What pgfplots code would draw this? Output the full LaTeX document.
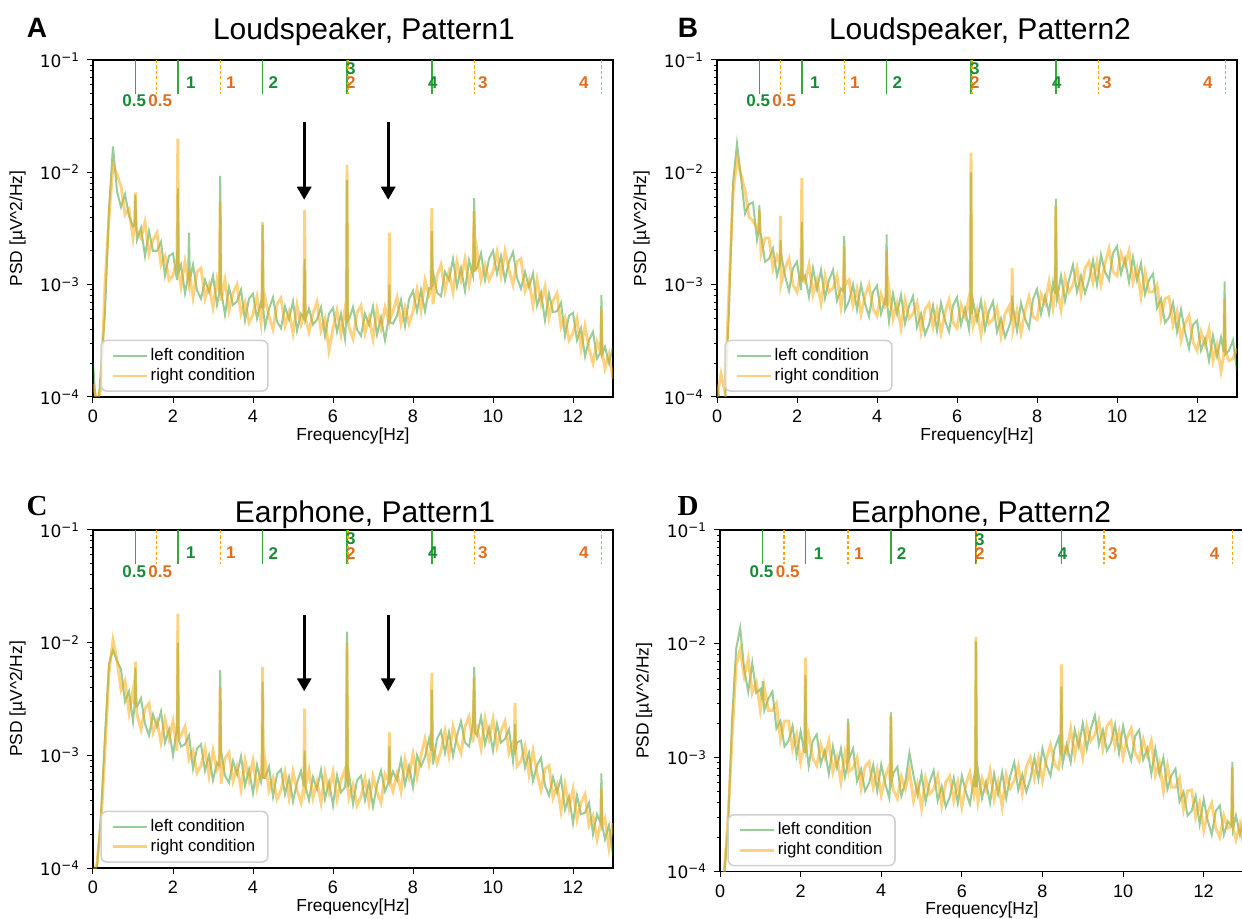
\documentclass[border=0pt]{standalone}
\usepackage{fontspec}
\setmainfont{Liberation Sans}
\newfontfamily\dejavu{DejaVu Sans}
\newfontfamily\serifbold{Liberation Serif}
\usepackage{pgfplots}
\pgfplotsset{compat=1.18}
\usepackage{pgfplotstable}
\usetikzlibrary{arrows.meta}

\definecolor{lgreen}{rgb}{0,0.5,0}
\definecolor{rorange}{rgb}{1,0.647,0}
\definecolor{mkgreen}{rgb}{0.22,0.66,0.22}
\definecolor{txtgreen}{rgb}{0.1,0.55,0.22}
\definecolor{txtorange}{rgb}{0.88,0.43,0.12}

% ---------------- spectra: f [Hz], left condition, right condition ----------------
\pgfplotstableread{
f L R
0.0 2.0e-4 1.3e-4
0.1 6.0e-5 9.0e-5
0.2 1.8e-4 1.2e-4
0.3 5.6e-4 1.0e-3
0.4 4.7e-3 4.0e-3
0.5 1.7e-2 1.15e-2
0.6 6.8e-3 9.6e-3
0.7 4.9e-3 7.5e-3
0.8 6.4e-3 4.2e-3
0.9 4.1e-3 4.7e-3
1.0 3.3e-3 2.6e-3
1.04 3.4e-3 3.4e-3
1.06 6.3e-3 6.6e-3
1.08 3.3e-3 3.3e-3
1.1 2.5e-3 3.0e-3
1.2 3.2e-3 2.6e-3
1.3 1.8e-3 3.6e-3
1.4 3.0e-3 1.9e-3
1.5 2.0e-3 2.5e-3
1.6 2.0e-3 2.9e-3
1.7 2.4e-3 1.5e-3
1.8 1.2e-3 1.8e-3
1.9 1.8e-3 1.1e-3
2.0 1.9e-3 1.2e-3
2.1 1.1e-3 1.7e-3
2.12 7.2e-3 2.0e-2
2.14 1.3e-3 1.3e-3
2.2 1.5e-3 9.6e-4
2.3 8.4e-4 1.6e-3
2.38 1.2e-3 1.1e-3
2.4 2.9e-3 1.0e-3
2.42 1.1e-3 1.2e-3
2.5 1.5e-3 7.7e-4
2.6 8.9e-4 1.3e-3
2.7 7.5e-4 1.4e-3
2.8 1.1e-3 7.6e-4
2.9 8.6e-4 1.0e-3
3.0 1.2e-3 6.3e-4
3.1 6.6e-4 1.1e-3
3.16 8.5e-4 8.5e-4
3.18 9.3e-3 5.5e-3
3.2 9.0e-4 7.2e-4
3.3 5.4e-4 1.1e-3
3.4 9.5e-4 5.9e-4
3.5 6.6e-4 8.4e-4
3.6 7.1e-4 1.0e-3
3.7 9.0e-4 5.5e-4
3.8 4.8e-4 7.0e-4
3.9 7.5e-4 4.6e-4
4.0 8.3e-4 5.4e-4
4.1 5.0e-4 7.8e-4
4.2 7.0e-4 4.6e-4
4.22 6.2e-4 6.0e-4
4.24 3.4e-3 3.6e-3
4.26 6.0e-4 6.2e-4
4.3 4.2e-4 7.7e-4
4.4 6.1e-4 5.2e-4
4.5 7.7e-4 4.0e-4
4.6 4.7e-4 6.7e-4
4.7 4.1e-4 7.6e-4
4.8 6.4e-4 4.3e-4
4.9 4.9e-4 5.7e-4
5.0 7.1e-4 3.7e-4
5.1 3.9e-4 6.6e-4
5.2 5.5e-4 4.4e-4
5.27 5.0e-4 5.2e-4
5.29 1.7e-3 4.6e-3
5.31 4.9e-4 5.0e-4
5.4 6.1e-4 3.8e-4
5.5 4.4e-4 5.6e-4
5.6 4.9e-4 7.0e-4
5.7 6.3e-4 3.9e-4
5.8 3.5e-4 5.0e-4
5.9 5.5e-4 2.6e-4
6.0 6.2e-4 4.1e-4
6.1 3.8e-4 5.9e-4
6.2 5.5e-4 3.6e-4
6.3 3.3e-4 6.1e-4
6.33 4.8e-4 4.9e-4
6.35 8.5e-3 1.16e-2
6.37 4.7e-4 4.8e-4
6.4 4.9e-4 4.2e-4
6.5 6.3e-4 3.3e-4
6.6 4.0e-4 5.6e-4
6.7 3.5e-4 6.5e-4
6.8 5.5e-4 3.7e-4
6.9 4.4e-4 5.1e-4
7.0 6.4e-4 3.3e-4
7.1 3.6e-4 6.0e-4
7.2 5.1e-4 4.1e-4
7.3 3.2e-4 6.3e-4
7.39 5.0e-4 4.8e-4
7.41 1.0e-3 2.9e-3
7.43 4.6e-4 5.0e-4
7.5 4.5e-4 5.8e-4
7.6 5.3e-4 7.7e-4
7.7 7.3e-4 4.5e-4
7.8 4.3e-4 6.3e-4
7.9 7.4e-4 4.5e-4
8.0 8.8e-4 5.8e-4
8.1 5.8e-4 9.1e-4
8.2 9.0e-4 5.9e-4
8.3 5.8e-4 1.1e-3
8.4 9.3e-4 8.0e-4
8.45 9.2e-4 9.0e-4
8.47 3.0e-3 4.8e-3
8.49 9.5e-4 9.3e-4
8.5 1.3e-3 6.7e-4
8.6 8.5e-4 1.2e-3
8.7 7.9e-4 1.5e-3
8.8 1.3e-3 8.8e-4
8.9 1.1e-3 1.3e-3
9.0 1.7e-3 8.6e-4
9.1 9.6e-4 1.6e-3
9.2 1.4e-3 1.1e-3
9.3 8.8e-4 1.7e-3
9.4 1.65e-3 1.0e-3
9.5 1.2e-3 1.55e-3
9.53 5.9e-3 4.5e-3
9.55 1.35e-3 1.3e-3
9.6 1.4e-3 2.0e-3
9.7 1.9e-3 1.1e-3
9.8 1.1e-3 1.5e-3
9.9 1.7e-3 1.1e-3
10.0 2.0e-3 1.3e-3
10.1 1.25e-3 1.95e-3
10.2 1.8e-3 1.2e-3
10.3 1.1e-3 2.0e-3
10.4 1.6e-3 1.35e-3
10.5 1.95e-3 1.0e-3
10.6 1.15e-3 1.6e-3
10.7 9.2e-4 1.7e-3
10.8 1.3e-3 8.8e-4
10.9 9.5e-4 1.1e-3
11.0 1.26e-3 6.5e-4
11.1 6.5e-4 1.1e-3
11.2 8.5e-4 6.8e-4
11.3 4.8e-4 9.6e-4
11.4 8.3e-4 5.1e-4
11.5 5.7e-4 7.2e-4
11.6 5.8e-4 8.4e-4
11.7 6.9e-4 4.2e-4
11.8 3.5e-4 5.1e-4
11.9 5.3e-4 3.2e-4
12.0 5.6e-4 3.7e-4
12.1 3.2e-4 5.0e-4
12.2 4.1e-4 2.7e-4
12.3 2.3e-4 4.3e-4
12.4 3.2e-4 2.7e-4
12.5 3.8e-4 2.0e-4
12.6 2.2e-4 3.1e-4
12.69 2.5e-4 2.5e-4
12.71 8.1e-4 6.0e-4
12.73 2.4e-4 2.5e-4
12.8 2.8e-4 1.8e-4
12.9 2.0e-4 2.4e-4
13.0 2.8e-4 1.45e-4
}\tabA

\pgfplotstableread{
f L R
0.0 1.3e-4 1.0e-4
0.1 8.0e-5 1.6e-4
0.2 9.0e-5 1.1e-4
0.3 6.0e-4 9.0e-4
0.4 8.0e-3 6.5e-3
0.5 1.8e-2 1.3e-2
0.6 9.0e-3 9.5e-3
0.7 4.3e-3 6.9e-3
0.8 5.2e-3 4.0e-3
0.9 5.4e-3 3.7e-3
1.0 2.5e-3 3.2e-3
1.04 3.0e-3 3.0e-3
1.06 5.1e-3 4.5e-3
1.08 2.9e-3 2.9e-3
1.1 2.8e-3 1.9e-3
1.2 1.6e-3 2.6e-3
1.3 1.7e-3 2.6e-3
1.4 2.1e-3 1.4e-3
1.5 1.2e-3 1.8e-3
1.57 1.5e-3 1.5e-3
1.59 2.5e-3 4.1e-3
1.6 1.9e-3 1.0e-3
1.7 1.2e-3 1.4e-3
1.8 8.8e-4 1.7e-3
1.9 1.4e-3 1.0e-3
2.0 1.6e-3 8.6e-4
2.1 9.0e-4 1.35e-3
2.12 3.6e-3 8.9e-3
2.14 1.1e-3 1.1e-3
2.2 1.2e-3 1.05e-3
2.3 7.8e-4 1.5e-3
2.4 1.4e-3 8.2e-4
2.5 9.1e-4 1.1e-3
2.6 1.35e-3 6.8e-4
2.7 7.6e-4 1.2e-3
2.8 1.1e-3 8.6e-4
2.9 1.35e-3 9.3e-4
3.0 7.2e-4 1.2e-3
3.1 9.2e-4 6.3e-4
3.16 8.7e-4 8.7e-4
3.18 2.7e-3 2.2e-3
3.2 6.0e-4 9.9e-4
3.3 7.1e-4 1.1e-3
3.4 1.0e-3 6.6e-4
3.5 6.0e-4 9.2e-4
3.6 1.0e-3 5.5e-4
3.7 6.8e-4 8.0e-4
3.8 5.2e-4 1.0e-3
3.9 8.6e-4 6.1e-4
4.0 9.8e-4 5.3e-4
4.1 5.5e-4 8.2e-4
4.2 7.4e-4 6.4e-4
4.22 6.6e-4 6.6e-4
4.24 2.8e-3 2.0e-3
4.26 6.5e-4 6.5e-4
4.3 4.7e-4 9.2e-4
4.4 8.3e-4 5.0e-4
4.5 5.5e-4 6.8e-4
4.6 8.1e-4 4.1e-4
4.7 4.5e-4 7.3e-4
4.8 6.4e-4 5.0e-4
4.9 7.9e-4 5.5e-4
5.0 4.2e-4 6.9e-4
5.1 5.5e-4 3.8e-4
5.2 3.6e-4 6.0e-4
5.3 4.4e-4 6.8e-4
5.4 6.5e-4 4.2e-4
5.5 3.9e-4 6.0e-4
5.6 6.9e-4 3.7e-4
5.7 4.8e-4 5.6e-4
5.8 3.8e-4 7.3e-4
5.9 6.5e-4 4.6e-4
6.0 7.7e-4 4.1e-4
6.1 4.4e-4 6.6e-4
6.2 6.1e-4 5.2e-4
6.3 4.0e-4 7.7e-4
6.33 5.5e-4 5.5e-4
6.35 1.0e-2 1.5e-2
6.37 5.5e-4 5.4e-4
6.4 7.2e-4 4.3e-4
6.5 4.8e-4 5.9e-4
6.6 7.2e-4 3.6e-4
6.7 4.0e-4 6.4e-4
6.8 5.8e-4 4.5e-4
6.9 7.1e-4 4.9e-4
7.0 3.8e-4 6.2e-4
7.1 5.0e-4 3.5e-4
7.2 3.4e-4 5.5e-4
7.3 4.2e-4 6.4e-4
7.36 5.0e-4 4.8e-4
7.38 8.0e-4 1.4e-3
7.4 6.3e-4 4.0e-4
7.5 3.9e-4 5.9e-4
7.6 6.9e-4 3.7e-4
7.7 5.0e-4 5.8e-4
7.8 4.1e-4 7.8e-4
7.9 7.4e-4 5.2e-4
8.0 9.1e-4 4.9e-4
8.1 5.5e-4 8.2e-4
8.2 7.9e-4 6.8e-4
8.3 5.5e-4 1.06e-3
8.4 1.04e-3 6.2e-4
8.45 8.3e-4 8.3e-4
8.47 5.8e-3 5.0e-3
8.49 8.4e-4 8.4e-4
8.5 7.4e-4 9.2e-4
8.6 1.2e-3 6.0e-4
8.7 7.2e-4 1.15e-3
8.8 1.1e-3 8.6e-4
8.9 1.5e-3 1.0e-3
9.0 8.6e-4 1.4e-3
9.1 1.2e-3 8.2e-4
9.2 8.4e-4 1.4e-3
9.3 1.1e-3 1.6e-3
9.4 1.65e-3 1.05e-3
9.5 1.0e-3 1.6e-3
9.6 1.85e-3 1.0e-3
9.7 1.3e-3 1.55e-3
9.8 1.1e-3 2.1e-3
9.9 1.9e-3 1.3e-3
10.0 2.2e-3 1.2e-3
10.1 1.25e-3 1.9e-3
10.2 1.7e-3 1.5e-3
10.3 1.05e-3 2.0e-3
10.4 1.75e-3 1.05e-3
10.5 1.1e-3 1.4e-3
10.6 1.55e-3 7.8e-4
10.7 8.2e-4 1.3e-3
10.8 1.1e-3 8.6e-4
10.9 1.25e-3 8.6e-4
11.0 6.2e-4 1.0e-3
11.1 7.5e-4 5.1e-4
11.2 4.6e-4 7.5e-4
11.3 5.1e-4 7.8e-4
11.4 6.9e-4 4.4e-4
11.5 3.8e-4 5.8e-4
11.6 6.0e-4 3.2e-4
11.7 3.8e-4 4.5e-4
11.8 2.7e-4 5.3e-4
11.9 4.4e-4 3.1e-4
12.0 4.8e-4 2.6e-4
12.1 2.6e-4 3.8e-4
12.2 3.3e-4 2.9e-4
12.3 2.1e-4 4.0e-4
12.4 3.5e-4 2.1e-4
12.5 2.3e-4 2.9e-4
12.6 3.4e-4 1.7e-4
12.67 2.5e-4 2.4e-4
12.69 1.07e-3 7.4e-4
12.71 2.4e-4 2.5e-4
12.8 2.6e-4 2.1e-4
12.9 3.2e-4 2.2e-4
13.0 1.7e-4 2.7e-4
}\tabB

\pgfplotstableread{
f L R
0.0 9.0e-5 9.0e-5
0.1 1.0e-4 1.1e-4
0.2 3.0e-4 2.5e-4
0.3 1.5e-3 1.1e-3
0.4 6.5e-3 5.5e-3
0.5 8.6e-3 1.06e-2
0.6 6.9e-3 7.0e-3
0.7 5.8e-3 3.8e-3
0.8 3.0e-3 4.6e-3
0.9 3.7e-3 2.4e-3
1.0 2.0e-3 3.8e-3
1.04 2.8e-3 2.8e-3
1.06 6.0e-3 6.8e-3
1.08 2.7e-3 2.7e-3
1.1 2.7e-3 2.3e-3
1.2 3.2e-3 1.7e-3
1.3 1.9e-3 2.6e-3
1.4 1.5e-3 2.9e-3
1.5 2.3e-3 1.6e-3
1.6 1.8e-3 2.0e-3
1.7 2.45e-3 1.3e-3
1.8 1.3e-3 2.1e-3
1.9 1.7e-3 1.4e-3
2.0 1.0e-3 2.0e-3
2.1 1.75e-3 1.1e-3
2.12 1.0e-2 1.8e-2
2.14 1.4e-3 1.4e-3
2.2 1.2e-3 1.5e-3
2.3 1.25e-3 1.8e-3
2.4 1.5e-3 9.2e-4
2.5 7.6e-4 1.1e-3
2.6 1.15e-3 7.0e-4
2.7 1.25e-3 8.1e-4
2.8 7.3e-4 1.15e-3
2.9 1.0e-3 6.6e-4
3.0 6.0e-4 1.1e-3
3.1 8.6e-4 7.4e-4
3.16 8.1e-4 8.1e-4
3.18 5.7e-3 4.0e-3
3.2 1.1e-3 5.6e-4
3.3 6.6e-4 9.4e-4
3.4 5.7e-4 1.06e-3
3.5 8.9e-4 5.9e-4
3.6 6.8e-4 7.9e-4
3.7 9.8e-4 5.0e-4
3.8 5.4e-4 9.0e-4
3.9 7.5e-4 6.0e-4
4.0 4.6e-4 9.0e-4
4.1 8.2e-4 5.1e-4
4.2 5.8e-4 7.4e-4
4.22 6.4e-4 6.4e-4
4.24 4.5e-3 6.1e-3
4.26 6.3e-4 6.3e-4
4.3 6.3e-4 9.1e-4
4.4 7.9e-4 4.9e-4
4.5 4.3e-4 6.3e-4
4.6 6.8e-4 4.1e-4
4.7 7.5e-4 4.9e-4
4.8 4.5e-4 7.1e-4
4.9 6.4e-4 4.2e-4
5.0 3.9e-4 7.2e-4
5.1 5.7e-4 4.9e-4
5.2 7.3e-4 3.8e-4
5.27 5.3e-4 5.3e-4
5.29 1.1e-3 2.6e-3
5.31 5.3e-4 5.2e-4
5.4 4.0e-4 7.4e-4
5.5 6.4e-4 4.2e-4
5.6 5.0e-4 5.8e-4
5.7 7.4e-4 3.8e-4
5.8 4.1e-4 6.9e-4
5.9 5.8e-4 4.7e-4
6.0 3.6e-4 7.1e-4
6.1 6.6e-4 4.1e-4
6.2 4.7e-4 6.0e-4
6.3 5.2e-4 7.5e-4
6.33 7.0e-4 6.0e-4
6.35 1.25e-2 1.0e-2
6.37 5.2e-4 5.2e-4
6.4 6.8e-4 4.2e-4
6.5 3.7e-4 5.5e-4
6.6 6.0e-4 3.6e-4
6.7 6.6e-4 4.3e-4
6.8 4.0e-4 6.3e-4
6.9 5.8e-4 3.8e-4
7.0 3.5e-4 6.5e-4
7.1 5.5e-4 4.7e-4
7.2 7.3e-4 3.8e-4
7.3 4.8e-4 6.8e-4
7.39 5.8e-4 5.9e-4
7.41 1.2e-3 1.6e-3
7.43 5.9e-4 5.9e-4
7.5 7.2e-4 4.8e-4
7.6 6.0e-4 6.9e-4
7.7 9.2e-4 4.8e-4
7.8 5.5e-4 9.1e-4
7.9 8.0e-4 6.4e-4
8.0 5.2e-4 1.03e-3
8.1 1.0e-3 6.4e-4
8.2 8.0e-4 1.0e-3
8.3 9.7e-4 1.4e-3
8.4 1.4e-3 8.5e-4
8.45 1.1e-3 1.1e-3
8.47 3.8e-3 5.4e-3
8.49 1.1e-3 1.1e-3
8.5 8.3e-4 1.2e-3
8.6 1.4e-3 8.5e-4
8.7 1.65e-3 1.1e-3
8.8 1.05e-3 1.65e-3
8.9 1.6e-3 1.0e-3
9.0 9.9e-4 1.8e-3
9.1 1.5e-3 1.3e-3
9.2 2.0e-3 1.05e-3
9.3 1.3e-3 1.8e-3
9.4 1.2e-3 2.2e-3
9.5 1.9e-3 1.3e-3
9.53 6.1e-3 4.9e-3
9.55 1.6e-3 1.6e-3
9.6 1.5e-3 1.75e-3
9.7 2.2e-3 1.15e-3
9.8 1.25e-3 2.1e-3
9.9 1.75e-3 1.4e-3
10.0 1.1e-3 2.1e-3
10.1 1.9e-3 1.2e-3
10.2 1.3e-3 1.65e-3
10.3 1.4e-3 2.0e-3
10.4 1.7e-3 1.05e-3
10.5 8.9e-4 1.3e-3
10.53 1.2e-3 1.2e-3
10.55 1.9e-3 2.9e-3
10.57 1.15e-3 1.15e-3
10.6 1.3e-3 8.0e-4
10.7 1.35e-3 8.9e-4
10.8 7.8e-4 1.2e-3
10.9 1.05e-3 6.8e-4
11.0 5.9e-4 1.1e-3
11.1 8.1e-4 6.9e-4
11.2 9.5e-4 4.9e-4
11.3 5.4e-4 7.6e-4
11.4 4.4e-4 8.1e-4
11.5 6.4e-4 4.2e-4
11.6 4.7e-4 5.4e-4
11.7 6.3e-4 3.2e-4
11.8 3.3e-4 5.5e-4
11.9 4.3e-4 3.4e-4
12.0 2.5e-4 5.0e-4
12.1 4.4e-4 2.7e-4
12.2 3.0e-4 3.8e-4
12.3 3.1e-4 4.5e-4
12.4 3.8e-4 2.4e-4
12.5 2.0e-4 2.9e-4
12.6 3.0e-4 1.8e-4
12.69 2.5e-4 2.5e-4
12.71 6.9e-4 5.0e-4
12.73 2.4e-4 2.4e-4
12.8 1.8e-4 2.75e-4
12.9 2.4e-4 1.5e-4
13.0 1.3e-4 2.5e-4
}\tabC

\pgfplotstableread{
f L R
0.0 8.0e-5 8.0e-5
0.1 9.0e-5 9.0e-5
0.2 2.5e-4 3.0e-4
0.3 2.2e-3 1.5e-3
0.4 9.0e-3 6.5e-3
0.5 1.38e-2 8.9e-3
0.6 6.0e-3 5.2e-3
0.7 3.8e-3 7.4e-3
0.8 6.8e-3 3.7e-3
0.9 3.7e-3 4.6e-3
1.0 4.0e-3 2.6e-3
1.04 3.2e-3 3.2e-3
1.06 4.7e-3 4.0e-3
1.08 3.2e-3 3.2e-3
1.1 2.6e-3 4.1e-3
1.2 3.3e-3 2.6e-3
1.3 3.8e-3 2.6e-3
1.4 1.8e-3 3.0e-3
1.5 2.1e-3 1.45e-3
1.6 1.25e-3 2.1e-3
1.7 1.4e-3 2.1e-3
1.8 1.9e-3 1.2e-3
1.9 1.05e-3 1.6e-3
2.0 1.7e-3 9.1e-4
2.1 1.1e-3 1.3e-3
2.12 5.3e-3 7.5e-3
2.14 1.25e-3 1.25e-3
2.2 8.4e-4 1.6e-3
2.3 1.4e-3 9.9e-4
2.4 1.6e-3 8.5e-4
2.5 8.8e-4 1.3e-3
2.6 1.15e-3 1.0e-3
2.7 7.2e-4 1.4e-3
2.8 1.25e-3 7.5e-4
2.9 8.2e-4 1.0e-3
3.0 1.2e-3 6.1e-4
3.1 6.8e-4 1.1e-3
3.16 8.5e-4 8.5e-4
3.18 2.2e-3 2.0e-3
3.2 9.7e-4 7.6e-4
3.3 1.2e-3 8.1e-4
3.4 6.2e-4 1.0e-3
3.5 7.9e-4 5.4e-4
3.6 5.1e-4 8.4e-4
3.7 6.0e-4 9.2e-4
3.8 8.6e-4 5.5e-4
3.9 5.1e-4 7.8e-4
4.0 8.7e-4 4.7e-4
4.1 5.9e-4 6.8e-4
4.2 4.4e-4 8.5e-4
4.22 6.3e-4 6.3e-4
4.24 2.5e-3 2.3e-3
4.26 6.2e-4 6.2e-4
4.3 7.3e-4 5.2e-4
4.4 8.3e-4 4.4e-4
4.5 4.6e-4 6.8e-4
4.6 6.2e-4 5.3e-4
4.7 1.1e-3 7.7e-4
4.8 7.0e-4 4.2e-4
4.9 4.7e-4 5.9e-4
5.0 7.2e-4 3.6e-4
5.1 4.1e-4 6.6e-4
5.2 6.1e-4 4.8e-4
5.3 7.7e-4 5.3e-4
5.4 4.2e-4 6.9e-4
5.5 5.6e-4 3.8e-4
5.6 3.7e-4 6.1e-4
5.7 4.5e-4 6.9e-4
5.8 6.6e-4 4.2e-4
5.9 4.0e-4 6.1e-4
6.0 6.9e-4 3.7e-4
6.1 5.0e-4 5.8e-4
6.2 3.9e-4 7.4e-4
6.3 6.6e-4 4.7e-4
6.33 5.5e-4 5.5e-4
6.35 1.05e-2 1.15e-2
6.37 5.5e-4 5.5e-4
6.4 7.7e-4 4.1e-4
6.5 4.4e-4 6.6e-4
6.6 6.1e-4 5.2e-4
6.7 4.0e-4 7.7e-4
6.8 7.2e-4 4.3e-4
6.9 4.8e-4 6.1e-4
7.0 7.4e-4 3.7e-4
7.1 4.4e-4 7.1e-4
7.2 6.9e-4 5.4e-4
7.3 9.1e-4 6.3e-4
7.4 5.2e-4 8.5e-4
7.5 7.1e-4 4.9e-4
7.6 5.0e-4 8.3e-4
7.7 6.5e-4 1.0e-3
7.8 1.0e-3 6.6e-4
7.9 6.5e-4 9.9e-4
8.0 1.2e-3 6.3e-4
8.1 8.5e-4 9.9e-4
8.2 6.9e-4 1.3e-3
8.3 1.2e-3 8.7e-4
8.4 1.5e-3 8.0e-4
8.45 1.05e-3 1.05e-3
8.47 4.2e-3 6.6e-3
8.49 1.1e-3 1.1e-3
8.5 8.8e-4 1.3e-3
8.6 1.3e-3 1.1e-3
8.7 9.1e-4 1.8e-3
8.8 1.75e-3 1.05e-3
8.9 1.25e-3 1.55e-3
9.0 2.0e-3 1.0e-3
9.1 1.2e-3 1.9e-3
9.2 1.8e-3 1.4e-3
9.3 2.35e-3 1.6e-3
9.4 1.3e-3 2.1e-3
9.5 1.75e-3 1.2e-3
9.6 1.15e-3 1.9e-3
9.7 1.35e-3 2.1e-3
9.8 1.95e-3 1.25e-3
9.9 1.1e-3 1.7e-3
10.0 1.9e-3 1.0e-3
10.1 1.25e-3 1.5e-3
10.2 9.5e-4 1.8e-3
10.3 1.55e-3 1.1e-3
10.4 1.75e-3 9.4e-4
10.5 9.6e-4 1.45e-3
10.6 1.2e-3 1.05e-3
10.7 7.2e-4 1.4e-3
10.8 1.2e-3 7.0e-4
10.9 7.2e-4 9.0e-4
11.0 1.0e-3 5.1e-4
11.1 5.3e-4 8.5e-4
11.2 7.0e-4 5.5e-4
11.3 8.0e-4 5.5e-4
11.4 4.1e-4 6.6e-4
11.5 5.0e-4 3.5e-4
11.6 3.1e-4 5.1e-4
11.7 3.4e-4 5.2e-4
11.8 4.6e-4 3.0e-4
11.9 2.6e-4 4.0e-4
12.0 4.3e-4 2.3e-4
12.1 2.8e-4 3.3e-4
12.2 2.1e-4 4.0e-4
12.3 3.4e-4 2.4e-4
12.4 3.8e-4 2.0e-4
12.5 2.1e-4 3.1e-4
12.6 2.75e-4 2.4e-4
12.69 2.5e-4 2.5e-4
12.71 9.2e-4 8.2e-4
12.73 2.4e-4 2.4e-4
12.8 3.1e-4 1.9e-4
12.9 2.1e-4 2.6e-4
13.0 3.1e-4 1.6e-4
}\tabD

% ---------------- drawing styles ----------------
\tikzset{
  lft/.style={draw=lgreen, draw opacity=0.4, line width=1pt},
  rgt/.style={draw=rorange, draw opacity=0.5, line width=1.45pt},
  gmk/.style={mkgreen, line width=0.7pt},
  omk/.style={rorange, line width=0.7pt, dash pattern=on 1.6pt off 1.1pt},
  gtx/.style={txtgreen, font=\bfseries\fontsize{8.5}{9}\selectfont, inner sep=0pt},
  otx/.style={txtorange, font=\bfseries\fontsize{8.5}{9}\selectfont, inner sep=0pt},
  downarrow/.style={-{Triangle[length=6.5pt,width=7pt]}, line width=1.5pt, black},
}

% one PSD panel: #1 = position and size
\newcommand{\psdaxis}[1]{%
\begin{axis}[
    scale only axis, #1,
    ymode=log,
    xmin=0, xmax=13, ymin=1e-4, ymax=1e-1,
    xtick={0,2,4,6,8,10,12},
    xticklabels={0,2,4,6,8,10,12},
    ytick={1e-4,1e-3,1e-2,1e-1},
    yticklabels={10\textsuperscript{−4},10\textsuperscript{−3},10\textsuperscript{−2},10\textsuperscript{−1}},
    minor ytick={2e-4,3e-4,4e-4,5e-4,6e-4,7e-4,8e-4,9e-4,2e-3,3e-3,4e-3,5e-3,6e-3,7e-3,8e-3,9e-3,2e-2,3e-2,4e-2,5e-2,6e-2,7e-2,8e-2,9e-2},
    tick align=outside,
    xtick pos=left, ytick pos=left,
    major tick length=3pt, minor tick length=1.7pt,
    tick style={black, line width=0.5pt},
    axis line style={black, line width=0.6pt},
    xticklabel style={font=\fontsize{9}{10}\selectfont},
    yticklabel style={font=\dejavu\fontsize{8.5}{10}\selectfont},
    xlabel={Frequency[Hz]},
    ylabel={PSD [µV\textasciicircum 2/Hz]},
    x label style={at={(axis description cs:0.5,0)}, anchor=center, yshift=-19.5pt, font=\fontsize{8.7}{10}\selectfont},
    y label style={at={(axis description cs:-0.145,0.5)}, anchor=center, font=\fontsize{8.7}{10}\selectfont},
    legend cell align=left,
    legend style={at={(0.014,0.015)}, anchor=south west, draw=black!18, line width=0.8pt,
      rounded corners=3pt, fill=white, fill opacity=0.8, text opacity=1,
      inner xsep=5pt, inner ysep=2.5pt, row sep=0pt,
      nodes={inner sep=1.3pt, anchor=west},
      font=\fontsize{8.4}{10}\selectfont},
  ]}

% stimulation frequencies of the two conditions, with their labels
\newcommand{\harmonics}{%
  \addplot[gmk, forget plot] coordinates {(1.06,0.1) (1.06,0.05)};
  \addplot[gmk, forget plot] coordinates {(2.12,0.1) (2.12,0.05)};
  \addplot[gmk, forget plot] coordinates {(4.24,0.1) (4.24,0.05)};
  \addplot[gmk, forget plot] coordinates {(6.35,0.1) (6.35,0.05)};
  \addplot[gmk, forget plot] coordinates {(8.47,0.1) (8.47,0.05)};
  \addplot[omk, forget plot] coordinates {(1.59,0.1) (1.59,0.05)};
  \addplot[omk, forget plot] coordinates {(3.18,0.1) (3.18,0.05)};
  \addplot[omk, forget plot] coordinates {(6.37,0.1) (6.37,0.05)};
  \addplot[omk, forget plot] coordinates {(9.53,0.1) (9.53,0.05)};
  \addplot[omk, forget plot] coordinates {(12.71,0.1) (12.71,0.05)};
  \node[gtx, anchor=center] at (axis cs:1.03,0.0431) {0.5};
  \node[otx, anchor=center] at (axis cs:1.68,0.0431) {0.5};
  \node[gtx, anchor=west] at (axis cs:2.32,0.0624) {1};
  \node[otx, anchor=west] at (axis cs:3.32,0.0624) {1};
  \node[gtx, anchor=west] at (axis cs:4.38,0.0624) {2};
  \node[gtx, anchor=west] at (axis cs:6.32,0.083) {3};
  \node[otx, anchor=west] at (axis cs:6.32,0.0624) {2};
  \node[gtx, anchor=west] at (axis cs:8.37,0.0624) {4};
  \node[otx, anchor=west] at (axis cs:9.62,0.0624) {3};
  \node[otx, anchor=east] at (axis cs:12.4,0.0624) {4};
}

\begin{document}
\begin{tikzpicture}
\useasboundingbox (0,0) rectangle (621pt,459.5pt);

% ---- A ----
\psdaxis{at={(46.5pt,261pt)}, anchor=south west, width=260pt, height=168.5pt}
  \addplot[lft] table[x=f,y=L]{\tabA};
  \addlegendentry{left condition}
  \addplot[rgt] table[x=f,y=R]{\tabA};
  \addlegendentry{right condition}
  \harmonics
  \draw[downarrow] (axis cs:5.28,0.028) -- (axis cs:5.28,0.0057);
  \draw[downarrow] (axis cs:7.38,0.028) -- (axis cs:7.38,0.0057);
\end{axis}

% ---- B ----
\psdaxis{at={(358.5pt,261pt)}, anchor=south west, width=260pt, height=168.5pt}
  \addplot[lft] table[x=f,y=L]{\tabB};
  \addlegendentry{left condition}
  \addplot[rgt] table[x=f,y=R]{\tabB};
  \addlegendentry{right condition}
  \harmonics
\end{axis}

% ---- C ----
\psdaxis{at={(46.5pt,25.5pt)}, anchor=south west, width=260pt, height=169pt}
  \addplot[lft] table[x=f,y=L]{\tabC};
  \addlegendentry{left condition}
  \addplot[rgt] table[x=f,y=R]{\tabC};
  \addlegendentry{right condition}
  \harmonics
  \draw[downarrow] (axis cs:5.28,0.0176) -- (axis cs:5.28,0.0037);
  \draw[downarrow] (axis cs:7.38,0.0176) -- (axis cs:7.38,0.0037);
\end{axis}

% ---- D ----
\psdaxis{at={(360pt,23.75pt)}, anchor=south west, width=262pt, height=170.75pt}
  \addplot[lft] table[x=f,y=L]{\tabD};
  \addlegendentry{left condition}
  \addplot[rgt] table[x=f,y=R]{\tabD};
  \addlegendentry{right condition}
  \harmonics
\end{axis}

% titles and panel letters
\node[anchor=base, font=\fontsize{15}{18}\selectfont] at (182pt,439.5pt) {Loudspeaker, Pattern1};
\node[anchor=base, font=\fontsize{15}{18}\selectfont] at (490pt,439.5pt) {Loudspeaker, Pattern2};
\node[anchor=base, font=\fontsize{15}{18}\selectfont] at (182.5pt,198pt) {Earphone, Pattern1};
\node[anchor=base, font=\fontsize{15}{18}\selectfont] at (490.5pt,198pt) {Earphone, Pattern2};
\node[anchor=base, inner sep=1pt, font=\bfseries\fontsize{14}{16}\selectfont] at (18.5pt,440.5pt) {A};
\node[anchor=base, inner sep=1pt, font=\bfseries\fontsize{14}{16}\selectfont] at (344pt,440.5pt) {B};
\node[anchor=base, inner sep=1pt, font=\serifbold\bfseries\fontsize{14.5}{16}\selectfont] at (18.5pt,201.5pt) {C};
\node[anchor=base, inner sep=1pt, font=\serifbold\bfseries\fontsize{14.5}{16}\selectfont] at (344pt,201.5pt) {D};
\end{tikzpicture}
\end{document}
